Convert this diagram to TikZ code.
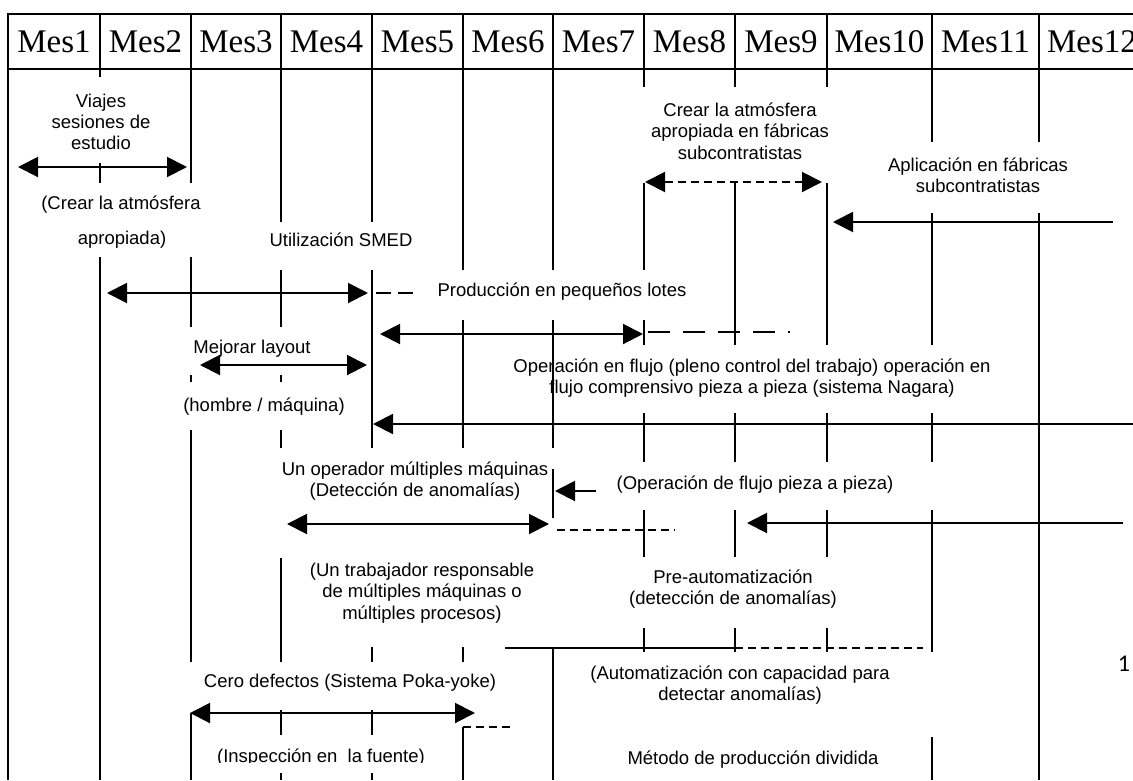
\documentclass[tikz,border=0pt]{standalone}
\usepackage{fontspec}
\setmainfont{Liberation Sans}
\newfontfamily\hdrfont{Liberation Serif}
\newfontfamily\pgnumfont{Carlito}
\usetikzlibrary{arrows.meta}

\begin{document}
\begin{tikzpicture}[x=1pt,y=-1pt,
  grid/.style={line width=2.2pt},
  conn/.style={line width=2pt},
  tip/.tip={Triangle[length=20pt,width=20pt]},
  both/.style={conn,tip-tip},
  single/.style={conn,-tip},
  dashline/.style={conn,dash pattern=on 8pt off 5pt},
  lbl/.style={font=\fontsize{18.5}{21.3}\selectfont,align=center,inner sep=0pt},
  hdr/.style={font=\hdrfont\fontsize{33}{33}\selectfont,anchor=base,inner sep=0pt}]

\useasboundingbox (0,0) rectangle (1133,780);
\fill[white] (0,0) rectangle (1133,780);
\clip (0,0) rectangle (1133,780);

% header band of the month table
\draw[grid] (1133,14) -| (8,780);
\draw[grid] (8,69) -- (1133,69);
\foreach \i/\cx in {1/54,2/145.5,3/236,4/326.5,5/417.5,6/508,7/598.5,8/689.5,9/781,10/879.5,11/985.5,12/1092}
  {\node[hdr] (m\i) at (\cx,52) {Mes\i};}

% month boundaries, broken where labels sit
\foreach \x/\segs in {
  100/{14/77,163/183,257/780},
  191/{14/183,257/327,375/382,430/662,713/780},
  281/{14/222,270/327,375/382,430/448,558/662,710/735,773/780},
  372/{14/222,270/448,647/662,710/735,773/780},
  463/{14/270,320/448,647/662,727/780},
  553/{14/270,320/448,469/518,647/780},
  644/{14/87,183/270,320/345,413/462,510/557,628/652},
  735/{14/87,183/345,413/462,510/557,628/652},
  827/{14/87,183/345,413/462,510/557,628/652},
  932/{14/142,213/345,413/462,510/652,737/780},
  1039/{14/142,213/780}}
  {\foreach \a/\b in \segs {\draw[grid] (\x,\a) -- (\x,\b);}}

% end points of the activity bars
\coordinate (viajesL) at (18,167);   \coordinate (viajesR) at (187,167);
\coordinate (smedL) at (107,293);    \coordinate (smedR) at (368,293);
\coordinate (smedD0) at (376,293);   \coordinate (smedD1) at (417,293);
\coordinate (prodL) at (380,334);    \coordinate (prodR) at (643,334);
\coordinate (prodD0) at (648,332);   \coordinate (prodD1) at (790,332);
\coordinate (mejL) at (200,365);     \coordinate (mejR) at (367,365);
\coordinate (flujoS) at (1140,424);  \coordinate (flujoE) at (373,424);
\coordinate (opL) at (287,524);      \coordinate (opR) at (549,524);
\coordinate (opD0) at (557,530);     \coordinate (opD1) at (675,530);
\coordinate (pzS) at (596,491);      \coordinate (pzE) at (555,491);
\coordinate (ngS) at (1123,523);     \coordinate (ngE) at (747,523);
\coordinate (crL) at (645,182);      \coordinate (crR) at (822,182);
\coordinate (apS) at (1113,222);     \coordinate (apE) at (833,222);
\coordinate (auL) at (505,648);      \coordinate (auM) at (735,648);
\coordinate (auR) at (923,648);
\coordinate (pkL) at (190,713);      \coordinate (pkR) at (475,713);
\coordinate (pkD0) at (463,727);     \coordinate (pkD1) at (513,727);

% activity bars
\draw[both] (viajesL) -- (viajesR);
\draw[both] (smedL) -- (smedR);
\draw[conn,dash pattern=on 15pt off 7pt] (smedD0) -- (smedD1);
\draw[both] (prodL) -- (prodR);
\draw[conn,dash pattern=on 22pt off 13pt] (prodD0) -- (prodD1);
\draw[both] (mejL) -- (mejR);
\draw[single] (flujoS) -- (flujoE);
\draw[both] (opL) -- (opR);
\draw[dashline] (opD0) -- (opD1);
\draw[single] (pzS) -- (pzE);
\draw[single] (ngS) -- (ngE);
\draw[both,dash pattern=on 8pt off 5pt] (crL) -- (crR);
\draw[single] (apS) -- (apE);
\draw[conn] (auL) -- (auM);
\draw[dashline] (auM) -- (auR);
\draw[both] (pkL) -- (pkR);
\draw[dashline] (pkD0) -- (pkD1);

% labels
\node[lbl] (viajes) at (101,122) {Viajes\\sesiones de\\estudio};
\node[lbl] (crearA) at (121,205) {(Crear la atmósfera};
\node[lbl] (crearB) at (122,240) {apropiada)};
\node[lbl] (smed) at (341,240) {Utilización SMED};
\node[lbl] (lotes) at (562,292) {Producción en pequeños lotes};
\node[lbl] (layout) at (252,349) {Mejorar layout};
\node[lbl] (hm) at (264,407) {(hombre / máquina)};
\node[lbl] (nagara) at (752,378) {Operación en flujo (pleno control del trabajo) operación en\\flujo comprensivo pieza a pieza (sistema Nagara)};
\node[lbl] (multi) at (415,481) {Un operador múltiples máquinas\\(Detección de anomalías)};
\node[lbl] (pieza) at (755,485) {(Operación de flujo pieza a pieza)};
\node[lbl] (resp) at (422,593) {(Un trabajador responsable\\de múltiples máquinas o\\múltiples procesos)};
\node[lbl] (pre) at (733,589) {Pre-automatización\\(detección de anomalías)};
\node[lbl] (auto) at (740,685) {(Automatización con capacidad para\\detectar anomalías)};
\node[lbl] (cero) at (350,683) {Cero defectos (Sistema Poka-yoke)};
\begin{scope}
  \clip (180,730) rectangle (460,762);
  \node[lbl,anchor=base] (fuente) at (321,762) {(Inspección en~ la fuente)};
\end{scope}
\node[lbl,anchor=base] (metodo) at (753,764) {Método de producción dividida};
\node[lbl] (crearFab) at (740,131) {Crear la atmósfera\\apropiada en fábricas\\subcontratistas};
\node[lbl] (aplic) at (978,175) {Aplicación en fábricas\\subcontratistas};
\node[font=\pgnumfont\fontsize{24}{24}\selectfont,inner sep=0pt] (pg) at (1124,664) {1};

\end{tikzpicture}
\end{document}
